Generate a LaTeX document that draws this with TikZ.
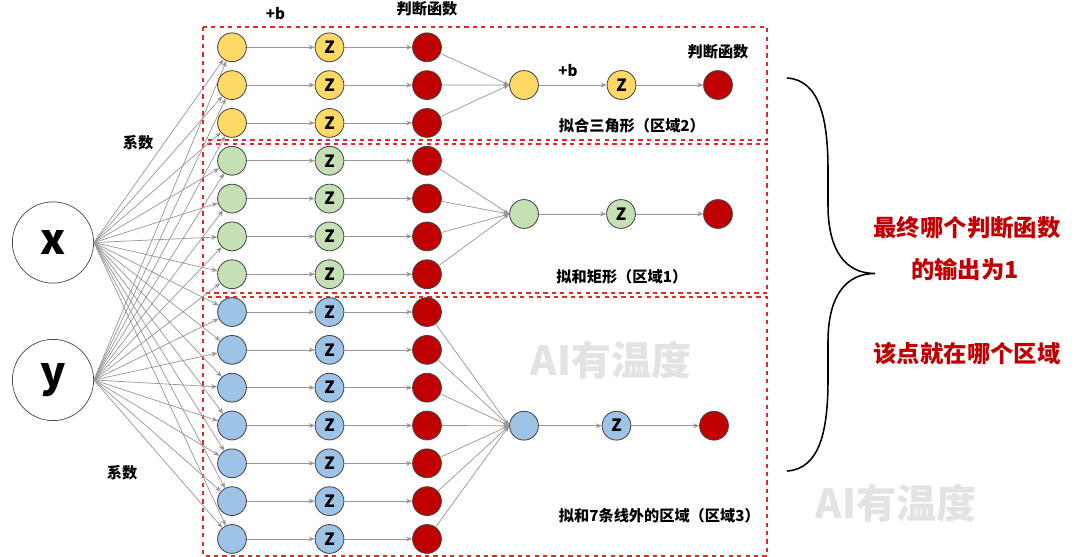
\documentclass[tikz,border=0pt]{standalone}
\usepackage{fontspec}
\setmainfont{Noto Sans CJK SC}
\usetikzlibrary{arrows.meta}
\definecolor{yel}{RGB}{255,217,102}
\definecolor{grn}{RGB}{197,224,180}
\definecolor{blu}{RGB}{157,195,230}
\definecolor{dred}{RGB}{192,0,0}
\definecolor{rim}{RGB}{70,70,70}
\definecolor{wire}{RGB}{150,150,150}
\definecolor{frame}{RGB}{228,40,40}
\tikzset{
    neuron/.style={circle, draw=rim, line width=0.6pt, minimum size=0.72cm, inner sep=0pt, font=\bfseries\fontsize{12}{12}\selectfont},
    judge/.style={neuron, fill=dred},
    inp/.style={circle, draw=rim, line width=0.5pt, minimum size=2.03cm, inner sep=0pt, font=\bfseries\fontsize{30}{30}\selectfont},
    arr/.style={-{Stealth[length=1.5mm, width=1.2mm]}, wire, line width=0.5pt},
    region/.style={draw=frame, dashed, line width=0.8pt},
    lbl/.style={font=\bfseries\fontsize{10.8}{12}\selectfont},
    note/.style={text=dred, font=\bfseries\fontsize{16.6}{18}\selectfont},
    wmark/.style={text=black!11, font=\bfseries\fontsize{28.5}{30}\selectfont}
}
\begin{document}
\begin{tikzpicture}[x=0.025cm, y=-0.025cm]
    \fill[white] (0,0) rectangle (1080,557);
    \useasboundingbox (0,0) rectangle (1080,557);

    % watermarks
    \node[wmark] (wm1) at (611,360) {AI有温度};
    \node[wmark] (wm2) at (896,503) {AI有温度};

    % regions
    \draw[region] (203,27) rectangle (767,140);
    \draw[region] (203,144) rectangle (767,293);
    \draw[region] (203,297) rectangle (767,556);

    \node[inp] (x) at (53,242.5) {x};
    \node[inp] (y) at (53,380) {y};

    \foreach \i/\c in {1/yel,2/yel,3/yel,4/grn,5/grn,6/grn,7/grn,8/blu,9/blu,10/blu,11/blu,12/blu,13/blu,14/blu}{
        \pgfmathsetmacro\yy{47.3+37.82*(\i-1)}
        \node[neuron, fill=\c] (s\i) at (232,\yy) {};
        \node[neuron, fill=\c] (z\i) at (329.5,\yy) {Z};
        \node[judge] (f\i) at (427,\yy) {};
        \draw[arr] (x.east) -- (s\i);
        \draw[arr] (y.east) -- (s\i);
        \draw[arr] (s\i) -- (z\i);
        \draw[arr] (z\i) -- (f\i);
    }

    % region 2
    \node[neuron, fill=yel] (tri) at (524,85) {};
    \node[neuron, fill=yel] (triz) at (621.5,85) {Z};
    \node[judge] (trif) at (718,85) {};
    \foreach \i in {1,2,3} \draw[arr] (f\i) -- (tri.west);
    \draw[arr] (tri) -- (triz);
    \draw[arr] (triz) -- (trif);

    % region 1
    \node[neuron, fill=grn] (rec) at (524,214) {};
    \node[neuron, fill=grn] (recz) at (621,214) {Z};
    \node[judge] (recf) at (718,214) {};
    \foreach \i in {4,...,7} \draw[arr] (f\i) -- (rec.west);
    \draw[arr] (rec) -- (recz);
    \draw[arr] (recz) -- (recf);

    % region 3
    \node[neuron, fill=blu] (oth) at (524,425.7) {};
    \node[neuron, fill=blu] (othz) at (616.5,425.7) {Z};
    \node[judge] (othf) at (714,425.7) {};
    \foreach \i in {8,...,14} \draw[arr] (f\i) -- (oth.west);
    \draw[arr] (oth) -- (othz);
    \draw[arr] (othz) -- (othf);

    % labels
    \node[lbl] (pb1) at (275.5,14) {+b};
    \node[lbl] (jf1) at (427,9) {判断函数};
    \node[lbl] (pb2) at (568,71) {+b};
    \node[lbl] (jf2) at (718,52) {判断函数};
    \node[lbl] (cf1) at (138,143) {系数};
    \node[lbl] (cf2) at (122,473) {系数};
    \node[lbl, anchor=west] (lb2) at (554,126) {拟合三角形（区域2）};
    \node[lbl, anchor=west] (lb1) at (551.5,277) {拟和矩形（区域1）};
    \node[lbl, anchor=west] (lb3) at (554,516) {拟和7条线外的区域（区域3）};

    % brace
    \draw[line width=1.1pt] (787,78) .. controls (820,80) and (828,120) .. (828,170) -- (828,205)
        .. controls (828,250) and (845,273.5) .. (875,273.5)
        .. controls (845,273.5) and (828,297) .. (828,342) -- (828,380)
        .. controls (828,430) and (820,469) .. (787,471);

    \node[note] (n1) at (967,228) {最终哪个判断函数};
    \node[note] (n2) at (965,270) {的输出为1};
    \node[note] (n3) at (967,354) {该点就在哪个区域};
\end{tikzpicture}
\end{document}
